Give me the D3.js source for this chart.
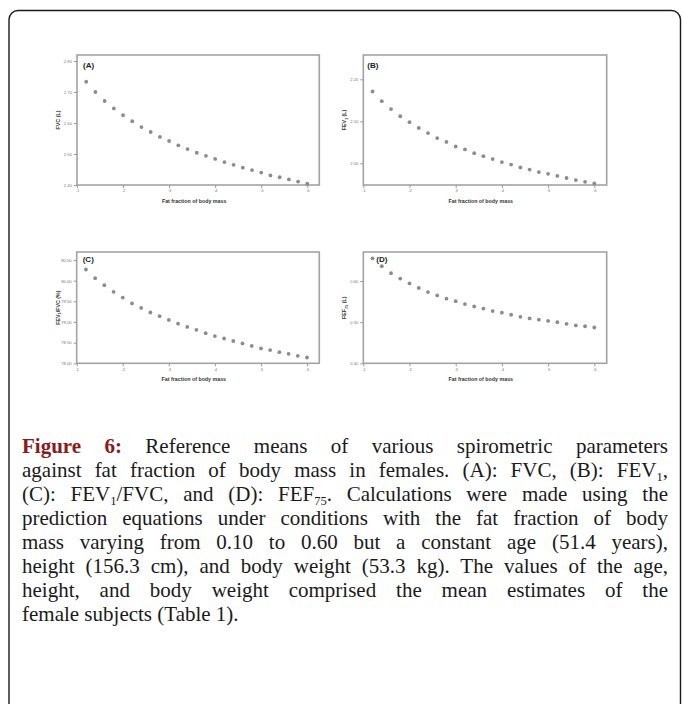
<!DOCTYPE html>
<html><head><meta charset="utf-8">
<script src="https://cdn.jsdelivr.net/npm/d3@7"></script>
<style>body{margin:0;background:#fff}</style>
</head><body>
<script>
// ---------- data ----------
const fatFraction = [0.12,0.14,0.16,0.18,0.20,0.22,0.24,0.26,0.28,0.30,0.32,0.34,0.36,0.38,0.40,0.42,0.44,0.46,0.48,0.50,0.52,0.54,0.56,0.58,0.60];
const fvc   = [2.733,2.700,2.671,2.647,2.625,2.606,2.587,2.571,2.555,2.542,2.528,2.516,2.504,2.494,2.484,2.474,2.465,2.456,2.448,2.440,2.431,2.425,2.418,2.411,2.404];
const fev1  = [2.171,2.148,2.129,2.112,2.098,2.084,2.072,2.060,2.051,2.040,2.033,2.024,2.017,2.010,2.003,1.997,1.990,1.985,1.979,1.975,1.970,1.965,1.960,1.956,1.952];
const ratio = [80.27,80.06,79.89,79.73,79.59,79.45,79.34,79.23,79.14,79.05,78.96,78.88,78.81,78.73,78.66,78.60,78.54,78.48,78.42,78.36,78.32,78.27,78.23,78.18,78.14];
const fef75 = [0.655,0.636,0.619,0.606,0.594,0.583,0.573,0.565,0.557,0.551,0.544,0.538,0.533,0.527,0.523,0.518,0.513,0.509,0.506,0.503,0.500,0.496,0.492,0.490,0.487];
const xTicks = [0.1,0.2,0.3,0.4,0.5,0.6];
const xTickLabels = [".1",".2",".3",".4",".5",".6"];
const yTicksA = [2.40,2.50,2.60,2.70,2.80];
const yTicksB = [2.00,2.10,2.20];
const yTicksC = [78.0,78.5,79.0,79.5,80.0,80.5];
const yTicksD = [0.40,0.50,0.60];
const panelLetters = ["(A)","(B)","(C)","(D)"];
const xTitle = "Fat fraction of body mass";

// ---------- layout ----------
const W = 683, H = 704;
const svg = d3.select('body').append('svg').attr('width', W).attr('height', H);

svg.append('rect').attr('x', 9).attr('y', 10.5).attr('width', 671.5).attr('height', 760)
  .attr('rx', 9).attr('fill', 'none').attr('stroke', '#1a1a1a').attr('stroke-width', 1.4);

const panels = [
  {values: fvc, ticks: yTicksA, letter: panelLetters[0], title: [{t:"FVC (L)"}],
   left: 77, x6: 307.3, right: 319.3, top: 55, bottom: 185,
   yRef: [2.40, 2.80], pxRef: [185, 61], lx: 6, ly: 13},
  {values: fev1, ticks: yTicksB, letter: panelLetters[1], title: [{t:"FEV"},{t:"1",sub:true},{t:" (L)"}],
   left: 363.3, x6: 594.3, right: 606.7, top: 55, bottom: 185,
   yRef: [2.00, 2.20], pxRef: [163.3, 79.3], lx: 4, ly: 13},
  {values: ratio, ticks: yTicksC, letter: panelLetters[2], title: [{t:"FEV"},{t:"1",sub:true},{t:"/FVC (%)"}],
   left: 76.7, x6: 307, right: 319.3, top: 252, bottom: 363.3,
   yRef: [78.0, 80.5], pxRef: [363.3, 260], lx: 6, ly: 9.5},
  {values: fef75, ticks: yTicksD, letter: panelLetters[3], title: [{t:"FEF"},{t:"75",sub:true},{t:" (L)"}],
   left: 363.3, x6: 594.3, right: 606.7, top: 252, bottom: 363.3,
   yRef: [0.40, 0.60], pxRef: [363.3, 281], lx: 13, ly: 9.5}
];

panels.forEach((p, pi) => {
  const g = svg.append('g');
  const x = d3.scaleLinear().domain([0.1, 0.6]).range([p.left, p.x6]);
  const y = d3.scaleLinear().domain(p.yRef).range(p.pxRef);

  g.append('rect').attr('x', p.left).attr('y', p.top)
    .attr('width', p.right - p.left).attr('height', p.bottom - p.top)
    .attr('fill', 'none').attr('stroke', '#a3a3a3').attr('stroke-width', 1.6);

  const ya = g.append('g').attr('transform', `translate(${p.left},0)`)
    .call(d3.axisLeft(y).tickValues(p.ticks).tickSize(3).tickPadding(2).tickFormat(d3.format('.2f')));
  ya.select('.domain').remove();
  ya.selectAll('line').attr('stroke', '#999');
  ya.selectAll('text').attr('font-family', 'Liberation Sans, Arial, sans-serif')
    .attr('font-size', 4.2).attr('fill', '#777');

  const xa = g.append('g').attr('transform', `translate(0,${p.bottom})`)
    .call(d3.axisBottom(x).tickValues(xTicks).tickSize(3).tickPadding(1.5)
      .tickFormat((d, i) => xTickLabels[i]));
  xa.select('.domain').remove();
  xa.selectAll('line').attr('stroke', '#999');
  xa.selectAll('text').attr('font-family', 'Liberation Sans, Arial, sans-serif')
    .attr('font-size', 4.2).attr('fill', '#777');

  g.selectAll('circle.pt').data(p.values).join('circle').attr('class', 'pt')
    .attr('cx', (d, i) => x(fatFraction[i])).attr('cy', d => y(d))
    .attr('r', 1.9).attr('fill', '#8c8c8c');

  g.append('text').attr('x', p.left + p.lx).attr('y', p.top + p.ly)
    .attr('font-family', 'Liberation Sans, Arial, sans-serif').attr('font-weight', 'bold')
    .attr('font-size', 8).attr('fill', '#222').text(p.letter);

  g.append('text').attr('x', (p.left + p.x6) / 2 + 2).attr('y', p.bottom + 18)
    .attr('text-anchor', 'middle').attr('font-family', 'Liberation Sans, Arial, sans-serif')
    .attr('font-weight', 'bold').attr('font-size', 5.3).attr('fill', '#333').text(xTitle);

  const cy = (p.top + p.bottom) / 2;
  const yt = g.append('text').attr('transform', `translate(${p.left - 17},${cy}) rotate(-90)`)
    .attr('text-anchor', 'middle').attr('font-family', 'Liberation Sans, Arial, sans-serif')
    .attr('font-weight', 'bold').attr('font-size', 5.3).attr('fill', '#333');
  p.title.forEach(s => {
    const ts = yt.append('tspan').text(s.t);
    if (s.sub) ts.attr('font-size', 3.8).attr('dy', 1.2);
    else if (yt.selectAll('tspan').size() > 1) ts.attr('dy', -1.2);
  });
});

// ---------- caption ----------
const captionLines = [
  [{t:"Figure 6:", b:true},{t:" Reference means of various spirometric parameters"}],
  [{t:"against fat fraction of body mass in females. (A): FVC, (B): FEV"},{t:"1",sub:true},{t:","}],
  [{t:"(C): FEV"},{t:"1",sub:true},{t:"/FVC, and (D): FEF"},{t:"75",sub:true},{t:". Calculations were made using the"}],
  [{t:"prediction equations under conditions with the fat fraction of body"}],
  [{t:"mass varying from 0.10 to 0.60 but a constant age (51.4 years),"}],
  [{t:"height (156.3 cm), and body weight (53.3 kg). The values of the age,"}],
  [{t:"height, and body weight comprised the mean estimates of the"}],
  [{t:"female subjects (Table 1)."}]
];
const capX = 22, capRight = 668, capY0 = 453, capLH = 24;
captionLines.forEach((segs, li) => {
  const t = svg.append('text').attr('x', capX).attr('y', capY0 + li * capLH)
    .attr('font-family', 'Liberation Serif, Times New Roman, serif')
    .attr('font-size', 21).attr('fill', '#1a1a1a');
  let shifted = false;
  segs.forEach(s => {
    const ts = t.append('tspan').text(s.t);
    if (s.b) ts.attr('font-weight', 'bold').attr('fill', '#8b1a1a');
    if (s.sub) { ts.attr('font-size', 12.5).attr('dy', 3.5); shifted = true; }
    else if (shifted) { ts.attr('dy', -3.5); shifted = false; }
  });
  if (li < captionLines.length - 1) {
    const full = segs.map(s => s.t).join('');
    const spaces = (full.match(/ /g) || []).length;
    const len = t.node().getComputedTextLength();
    if (spaces > 0) t.attr('word-spacing', (capRight - capX - len) / spaces);
  }
});
</script>
</body></html>
